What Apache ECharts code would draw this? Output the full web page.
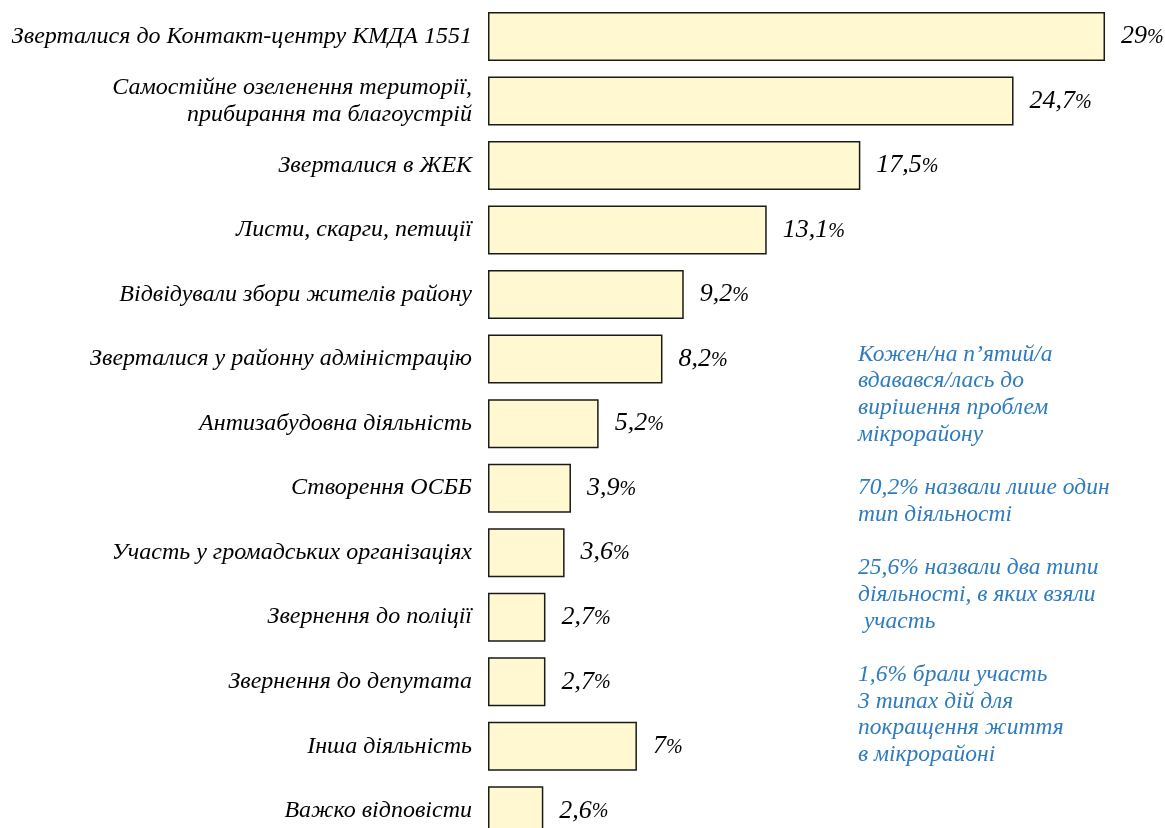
<!DOCTYPE html>
<html>
<head>
<meta charset="utf-8">
<script src="https://cdn.jsdelivr.net/npm/echarts@6/dist/echarts.min.js"></script>
<style>html,body{margin:0;padding:0;background:#fff;overflow:hidden;width:1165px;height:828px}#c{width:1165px;height:843px}</style>
</head>
<body>
<div id="c"></div>
<script>
const categories = [
  'Зверталися до Контакт-центру КМДА 1551',
  'Самостійне озеленення території,\nприбирання та благоустрій',
  'Зверталися в ЖЕК',
  'Листи, скарги, петиції',
  'Відвідували збори жителів району',
  'Зверталися у районну адміністрацію',
  'Антизабудовна діяльність',
  'Створення ОСББ',
  'Участь у громадських організаціях',
  'Звернення до поліції',
  'Звернення до депутата',
  'Інша діяльність',
  'Важко відповісти'
];
const values = [29, 24.7, 17.5, 13.1, 9.2, 8.2, 5.2, 3.9, 3.6, 2.7, 2.7, 7, 2.6];
const noteText = 'Кожен/на п’ятий/а\nвдавався/лась до\nвирішення проблем\nмікрорайону\n\n70,2% назвали лише один\nтип діяльності\n\n25,6% назвали два типи\nдіяльності, в яких взяли\n участь\n\n1,6% брали участь\n3 типах дій для\nпокращення життя\nв мікрорайоні';

const serif = '"Liberation Serif", "DejaVu Serif", serif';
const chart = echarts.init(document.getElementById('c'));
chart.setOption({
  animation: false,
  grid: { left: 488, top: 4.25, width: 638.3, bottom: 0, containLabel: false },
  xAxis: { type: 'value', min: 0, max: 30, show: false },
  yAxis: {
    type: 'category', data: categories, inverse: true,
    axisLine: { show: false }, axisTick: { show: false },
    axisLabel: { margin: 16, color: '#000', fontFamily: serif, fontStyle: 'italic', fontSize: 24, lineHeight: 27, align: 'right' }
  },
  series: [{
    type: 'bar', data: values, barWidth: 49,
    itemStyle: { color: '#FFF8D0', borderColor: '#1a1a1a', borderWidth: 1.5 },
    label: {
      show: true, position: 'right', distance: 16,
      formatter: p => '{n|' + String(p.value).replace('.', ',') + '}{p|%}',
      rich: {
        n: { fontFamily: serif, fontStyle: 'italic', fontSize: 26, color: '#000' },
        p: { fontFamily: serif, fontStyle: 'italic', fontSize: 20, color: '#000', padding: [3, 0, 0, 0] }
      }
    }
  }],
  graphic: [{
    type: 'text', left: 858, top: 341,
    style: { text: noteText, fill: '#2E7BC0', font: 'italic 23.5px ' + serif, lineHeight: 26.7 }
  }]
});
</script>
</body>
</html>
